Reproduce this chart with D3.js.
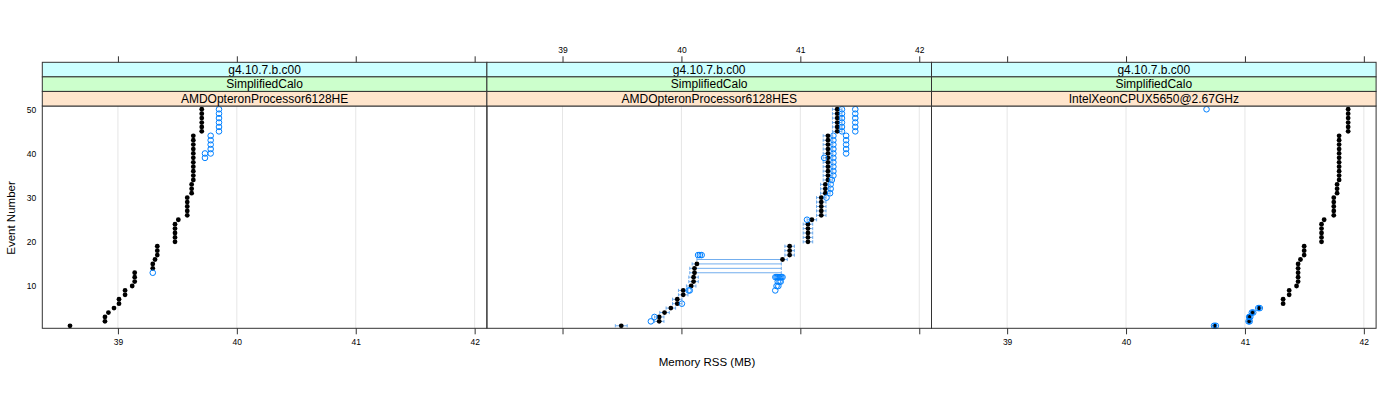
<!DOCTYPE html>
<html>
<head>
<meta charset="utf-8">
<script src="https://cdn.jsdelivr.net/npm/d3@7"></script>
<style>
  html, body { margin: 0; padding: 0; background: #fff; }
  svg { display: block; font-family: "Liberation Sans", Arial, Helvetica, sans-serif; }
</style>
</head>
<body>
<svg id="chart" width="1400" height="400"></svg>
<script>
// ---------------- DATA ----------------
const stripLevel1 = ["g4.10.7.b.c00", "g4.10.7.b.c00", "g4.10.7.b.c00"];
const stripLevel2 = ["SimplifiedCalo", "SimplifiedCalo", "SimplifiedCalo"];
const processors = ["AMDOpteronProcessor6128HE", "AMDOpteronProcessor6128HES", "IntelXeonCPUX5650@2.67GHz"];

const events = [1,2,3,4,5,6,7,8,9,10,11,12,13,14,15,16,17,18,19,20,21,22,23,24,25,
                26,27,28,29,30,31,32,33,34,35,36,37,38,39,40,41,42,43,44,45,46,47,48,49,50];

const xTicks = [39, 40, 41, 42];
const yTicks = [10, 20, 30, 40, 50];

// reference (black) memory RSS per event
const rssHE = [38.597,38.891,38.891,38.92,38.967,39.009,39.009,39.06,39.06,39.12,
               39.141,39.141,39.141,39.293,39.293,39.312,39.331,39.331,39.331,39.48,
               39.48,39.48,39.48,39.48,39.508,39.583,39.583,39.583,39.583,39.583,
               39.62,39.62,39.62,39.634,39.634,39.634,39.634,39.634,39.634,39.634,
               39.634,39.634,39.634,39.634,39.705,39.705,39.705,39.705,39.705,39.705];
const rssHES = [39.494,39.813,39.813,39.858,39.911,39.965,39.965,40.015,40.015,40.082,
                40.102,40.102,40.11,40.11,40.13,40.85,40.91,40.91,40.91,41.064,
                41.064,41.064,41.064,41.064,41.097,41.176,41.176,41.176,41.176,41.176,
                41.21,41.21,41.21,41.232,41.232,41.232,41.232,41.232,41.232,41.232,
                41.232,41.232,41.232,41.232,41.31,41.31,41.31,41.31,41.31,41.31];
const rssIntel = [40.747,41.035,41.035,41.064,41.119,41.321,41.321,41.372,41.372,41.434,
                  41.447,41.447,41.447,41.447,41.447,41.467,41.498,41.498,41.498,41.644,
                  41.644,41.644,41.644,41.644,41.666,41.747,41.747,41.747,41.747,41.747,
                  41.775,41.775,41.775,41.792,41.792,41.792,41.792,41.792,41.792,41.792,
                  41.792,41.792,41.792,41.792,41.868,41.868,41.868,41.868,41.868,41.868];

// error-bar range of the reference series (HES panel only)
const errLowHES = [39.444,39.773,39.773,39.818,39.871,39.925,39.925,39.975,39.975,40.042,
                   40.062,40.062,40.07,40.07,40.09,40.13,40.87,40.87,40.87,41.024,
                   41.024,41.024,41.024,41.024,41.057,41.136,41.136,41.136,41.136,41.136,
                   41.17,41.17,41.17,41.192,41.192,41.192,41.192,41.192,41.192,41.192,
                   41.192,41.192,41.192,41.192,41.27,41.27,41.27,41.27,41.27,41.27];
const errHighHES = [39.544,39.853,39.853,39.898,39.951,40.005,40.005,40.055,40.055,40.122,
                    40.142,40.142,40.84,40.84,40.84,40.89,40.95,40.95,40.95,41.104,
                    41.104,41.104,41.104,41.104,41.137,41.216,41.216,41.216,41.216,41.216,
                    41.25,41.25,41.25,41.272,41.272,41.272,41.272,41.272,41.272,41.272,
                    41.272,41.272,41.272,41.272,41.35,41.35,41.35,41.35,41.35,41.35];

// comparison (blue open circles): [event, memory RSS]
const cmpHE = [[13,39.293],[39,39.732],[40,39.732],[40,39.78],[41,39.78],[42,39.78],[43,39.78],[44,39.78],
               [45,39.85],[46,39.85],[47,39.85],[48,39.85],[49,39.85],[50,39.85]];
const cmpHES = [[2,39.743],[3,39.773],[6,40.004],[9,40.06],[9,40.07],
                [9,40.789],[10,40.80],[10,40.815],[11,40.81],[11,40.825],[11,40.835],
                [12,40.79],[12,40.80],[12,40.81],[12,40.82],[12,40.83],[12,40.84],[12,40.85],
                [17,40.14],[17,40.155],[17,40.17],[25,41.056],
                [30,41.22],[31,41.25],[32,41.255],[33,41.255],[34,41.265],
                [35,41.278],[36,41.278],[37,41.278],[38,41.278],[39,41.278],[40,41.278],[41,41.278],[42,41.278],[43,41.278],[44,41.278],
                [39,41.2],[40,41.385],[41,41.385],[42,41.385],[43,41.385],[44,41.385],
                [45,41.35],[46,41.35],[47,41.35],[48,41.35],[49,41.35],[50,41.35],
                [45,41.462],[46,41.462],[47,41.462],[48,41.462],[49,41.462],[50,41.462]];
const cmpIntel = [[1,40.74],[1,40.755],[2,41.03],[2,41.04],[3,41.035],[3,41.045],[4,41.058],[4,41.07],
                  [5,41.112],[5,41.125],[50,40.677]];

const panelData = [
  {ref: rssHE, cmp: cmpHE, errLow: null, errHigh: null},
  {ref: rssHES, cmp: cmpHES, errLow: errLowHES, errHigh: errHighHES},
  {ref: rssIntel, cmp: cmpIntel, errLow: null, errHigh: null}
];

// ---------------- LAYOUT ----------------
const svg = d3.select("#chart");
const panelX0 = 42.3, panelW = 444.6;
const plotTop = 106, plotBottom = 328.3;
const stripTop = 62.3, stripH = 14.57;
const stripColors = ["#ccffff", "#ccffcc", "#ffe5cc"];
const blue = "#0080ff";
const borderCol = "#333333";

const x = d3.scaleLinear().domain([38.364, 42.103]).range([0, panelW]);
const y = d3.scaleLinear().domain([0.43, 50.74]).range([plotBottom, plotTop]);

processors.forEach((proc, i) => {
  const g = svg.append("g").attr("transform", `translate(${panelX0 + i * panelW},0)`);
  const d = panelData[i];

  // grid
  g.append("g").selectAll("line").data(xTicks).join("line")
    .attr("x1", v => x(v)).attr("x2", v => x(v))
    .attr("y1", plotTop).attr("y2", plotBottom)
    .attr("stroke", "#e6e6e6").attr("stroke-width", 1);

  // error bars
  if (d.errLow) {
    const eb = g.append("g").attr("stroke", "#3d8fe8").attr("stroke-width", 0.9).attr("opacity", 0.8);
    events.forEach((e, k) => {
      const yy = y(e);
      const x1 = x(d.errLow[k]), x2 = x(d.errHigh[k]);
      eb.append("line").attr("x1", x1).attr("x2", x2).attr("y1", yy).attr("y2", yy);
      eb.append("line").attr("x1", x1).attr("x2", x1).attr("y1", yy - 1.6).attr("y2", yy + 1.6);
      eb.append("line").attr("x1", x2).attr("x2", x2).attr("y1", yy - 1.6).attr("y2", yy + 1.6);
    });
  }

  // reference points
  g.append("g").selectAll("circle").data(events).join("circle")
    .attr("cx", (e, k) => x(d.ref[k])).attr("cy", e => y(e))
    .attr("r", 2.4).attr("fill", "#000");

  // comparison points
  g.append("g").selectAll("circle").data(d.cmp).join("circle")
    .attr("cx", p => x(p[1])).attr("cy", p => y(p[0]))
    .attr("r", 2.8).attr("fill", "none").attr("stroke", blue).attr("stroke-width", 1);

  // panel border
  g.append("rect").attr("x", 0).attr("y", plotTop).attr("width", panelW).attr("height", plotBottom - plotTop)
    .attr("fill", "none").attr("stroke", borderCol).attr("stroke-width", 1);

  // strips
  const strips = [stripLevel1[i], stripLevel2[i], proc];
  strips.forEach((txt, s) => {
    const sy = stripTop + s * stripH;
    g.append("rect").attr("x", 0).attr("y", sy).attr("width", panelW).attr("height", stripH)
      .attr("fill", stripColors[s]).attr("stroke", borderCol).attr("stroke-width", 1);
    g.append("text").attr("x", panelW / 2).attr("y", sy + stripH / 2 + 4.2)
      .attr("text-anchor", "middle").attr("font-size", "12px").attr("fill", "#000").text(txt);
  });

  // top axis (labels only on middle panel)
  const topAxis = d3.axisTop(x).tickValues(xTicks).tickSize(6).tickPadding(3)
    .tickFormat(i === 1 ? d3.format("d") : () => "");
  const ta = g.append("g").attr("transform", `translate(0,${stripTop})`).call(topAxis);
  // bottom axis (labels on outer panels)
  const botAxis = d3.axisBottom(x).tickValues(xTicks).tickSize(6).tickPadding(5)
    .tickFormat(i !== 1 ? d3.format("d") : () => "");
  const ba = g.append("g").attr("transform", `translate(0,${plotBottom})`).call(botAxis);
  [ta, ba].forEach(a => {
    a.select(".domain").remove();
    a.selectAll(".tick line").attr("stroke", borderCol);
    a.selectAll(".tick text").attr("font-size", "8.5px").attr("fill", "#000")
      .attr("font-family", "'Liberation Sans', Arial, sans-serif");
  });

  if (i === 0) {
    const la = g.append("g").call(d3.axisLeft(y).tickValues(yTicks).tickSize(0).tickPadding(6).tickFormat(d3.format("d")));
    la.select(".domain").remove();
    la.selectAll(".tick text").attr("font-size", "8.5px").attr("fill", "#000")
      .attr("font-family", "'Liberation Sans', Arial, sans-serif");
  }
});

// axis titles
svg.append("text").attr("x", 707).attr("y", 366).attr("text-anchor", "middle")
  .attr("font-size", "11.5px").attr("fill", "#000").text("Memory RSS (MB)");
svg.append("text").attr("transform", "translate(15,218) rotate(-90)").attr("text-anchor", "middle")
  .attr("font-size", "11.5px").attr("fill", "#000").text("Event Number");
</script>
</body>
</html>
